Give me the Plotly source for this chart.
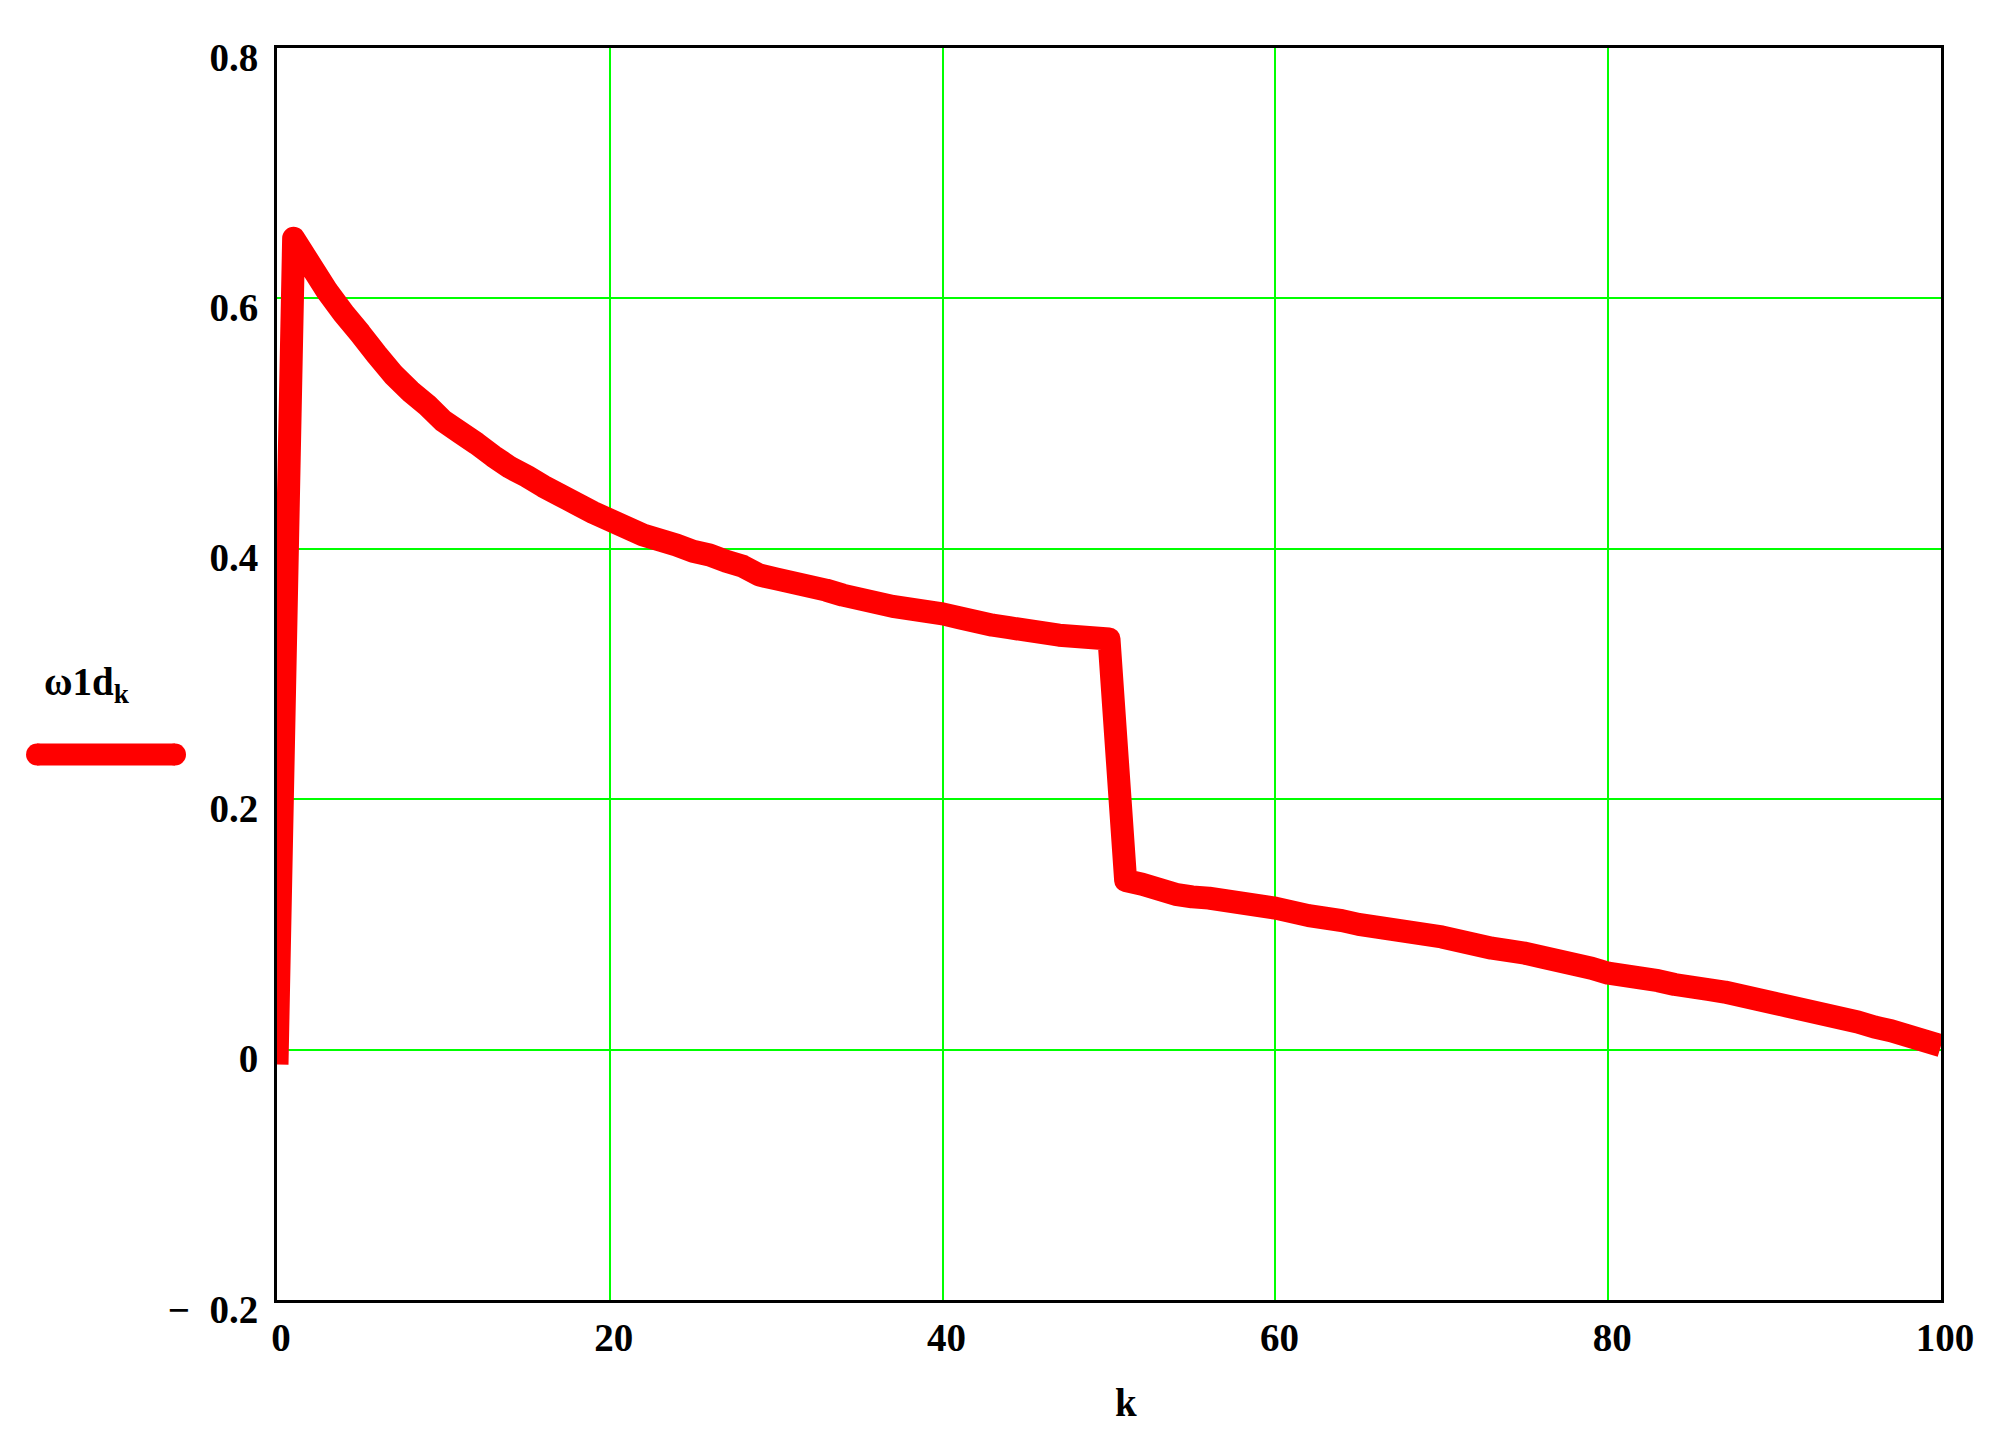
import plotly.graph_objs as go

# %%
# values
k = list(range(101))
omega1d = [
    -0.012, 0.648, 0.627, 0.606, 0.588, 0.572, 0.555, 0.539, 0.526, 0.515,
    0.502, 0.493, 0.484, 0.474, 0.465, 0.458, 0.450, 0.443, 0.436, 0.429,
    0.423, 0.417, 0.411, 0.407, 0.403, 0.398, 0.395, 0.390, 0.386, 0.379,
    0.376, 0.373, 0.370, 0.367, 0.363, 0.360, 0.357, 0.354, 0.352, 0.350,
    0.348, 0.345, 0.342, 0.339, 0.337, 0.335, 0.333, 0.331, 0.330, 0.329,
    0.328, 0.135, 0.132, 0.128, 0.124, 0.122, 0.121, 0.119, 0.117, 0.115,
    0.113, 0.110, 0.107, 0.105, 0.103, 0.100, 0.098, 0.096, 0.094, 0.092,
    0.090, 0.087, 0.084, 0.081, 0.079, 0.077, 0.074, 0.071, 0.068, 0.065,
    0.061, 0.059, 0.057, 0.055, 0.052, 0.050, 0.048, 0.046, 0.043, 0.040,
    0.037, 0.034, 0.031, 0.028, 0.025, 0.022, 0.018, 0.015, 0.011, 0.007,
    0.003,
]

x_ticks = [0, 20, 40, 60, 80, 100]
y_ticks = [-0.2, 0, 0.2, 0.4, 0.6, 0.8]
y_ticktext = ["\u2212\u20020.2", "0", "0.2", "0.4", "0.6", "0.8"]

# %%
RED = "#ff0000"
GRID = "#00ff00"
FONT = dict(family="Liberation Serif", size=39, color="black", weight="bold")

trace = go.Scatter(
    x=k,
    y=omega1d,
    mode="lines",
    line=dict(color=RED, width=23, simplify=False),
    showlegend=False,
)

axis_common = dict(
    showline=True,
    linecolor="black",
    linewidth=3,
    mirror=True,
    showgrid=True,
    gridcolor=GRID,
    gridwidth=2,
    zeroline=False,
    ticks="",
    tickfont=FONT,
)

layout = go.Layout(
    width=1989,
    height=1440,
    margin=dict(l=277, r=48, t=48, b=140),
    paper_bgcolor="white",
    plot_bgcolor="white",
    xaxis=dict(
        range=[0, 100],
        tickvals=x_ticks,
        ticklabelstandoff=1,
        ticklabelshift=4,
        **axis_common
    ),
    yaxis=dict(
        range=[-0.2, 0.8],
        tickvals=y_ticks,
        ticktext=y_ticktext,
        ticklabelstandoff=8,
        ticklabelshift=9,
        **axis_common
    ),
)

fig = go.Figure(data=[trace], layout=layout)

# axis title k
fig.add_annotation(
    text="k", x=0.510, y=-0.0815, xref="paper", yref="paper",
    xanchor="center", yanchor="middle", showarrow=False, font=FONT,
)

# legend drawn by hand: name above the line sample, like Mathcad does
fig.add_annotation(
    text="\u03c91d<sub>k</sub>", x=-0.141, y=0.492, xref="paper", yref="paper",
    xanchor="left", yanchor="middle", showarrow=False, font=FONT,
)
lx0, lx1, ly = -0.1442, -0.0613, 0.4357
rx, ry = 11 / 1664, 11 / 1252
fig.add_shape(type="line", xref="paper", yref="paper",
              x0=lx0, x1=lx1, y0=ly, y1=ly, line=dict(color=RED, width=22))
for cx in (lx0, lx1):
    fig.add_shape(type="circle", xref="paper", yref="paper",
                  x0=cx - rx, x1=cx + rx, y0=ly - ry, y1=ly + ry,
                  fillcolor=RED, line=dict(width=0))

# round line joins like the original, and no page margin
post = """
document.body.style.margin = '0';
document.querySelectorAll('.scatterlayer path.js-line').forEach(function (p) {
    p.style.strokeLinejoin = 'round';
});
"""

fig.write_html("out.html", post_script=post, config=dict(displayModeBar=False))
